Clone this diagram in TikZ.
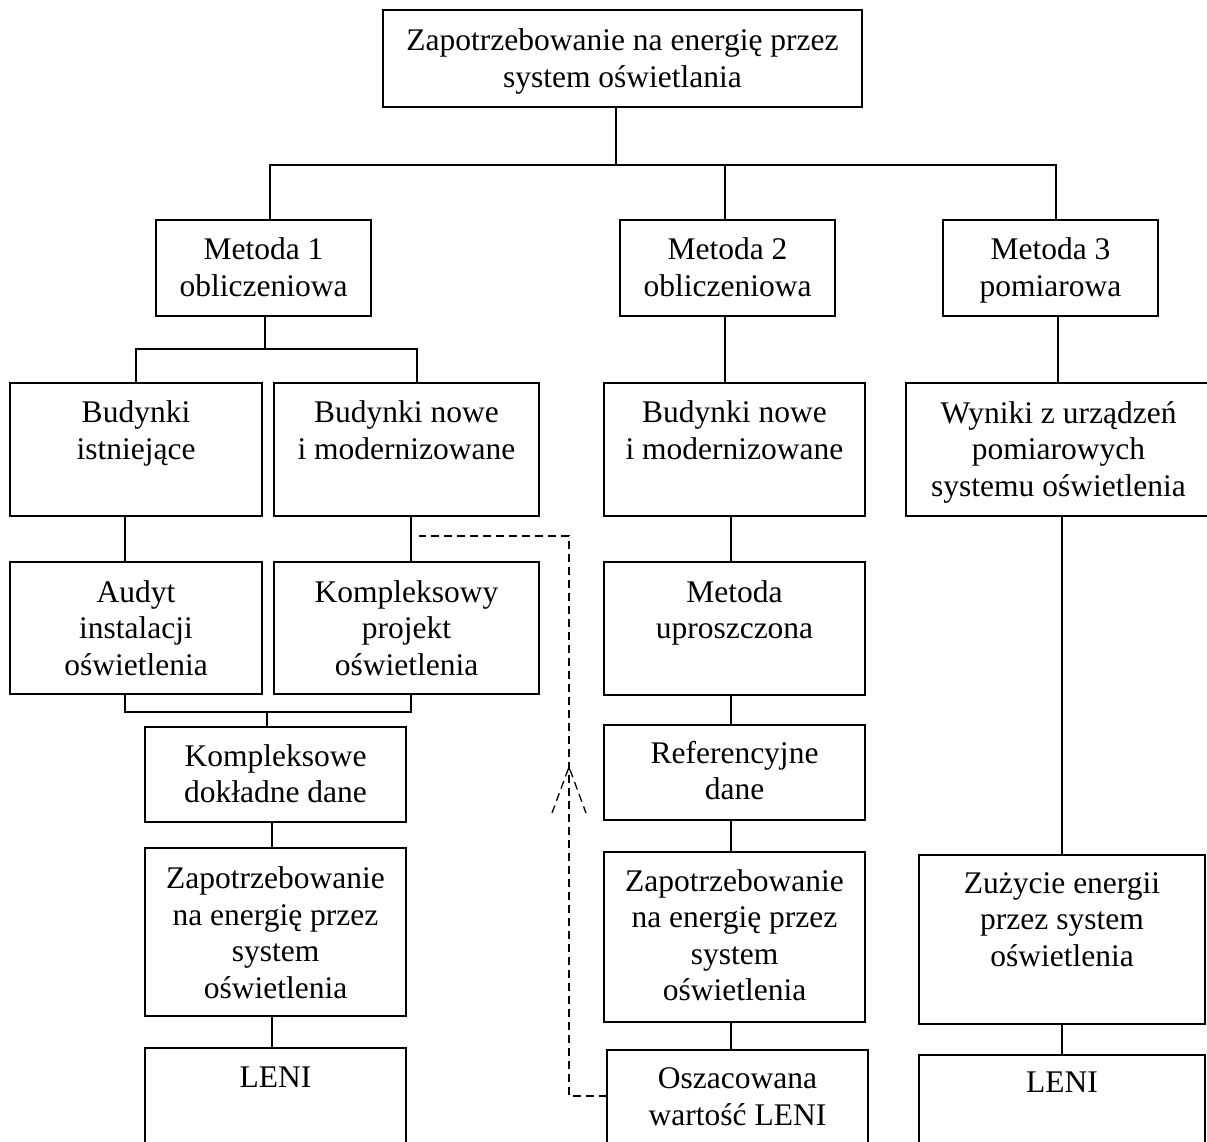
\documentclass[tikz,border=0pt]{standalone}
\usepackage{fontspec}
\setmainfont{Liberation Serif}
\begin{document}
\begin{tikzpicture}[x=1pt,y=-1pt,
  box/.style={draw=black, line width=1.7pt, inner sep=0pt, outer sep=0pt, anchor=north west},
  txt/.style={anchor=base, align=center, inner sep=0pt, text=black, font=\fontsize{31.5}{36.5}\selectfont},
  conn/.style={draw=black, line width=1.1pt},
  dconn/.style={draw=black, line width=1.3pt, dash pattern=on 8pt off 5pt}]
\useasboundingbox (0,0) rectangle (1207,1142);
\clip (0,0) rectangle (1207,1142);
% boxes
\node[box, minimum width=479pt, minimum height=97pt] (top) at (383,10) {};
\node[box, minimum width=215pt, minimum height=96pt] (m1) at (156,220) {};
\node[box, minimum width=215pt, minimum height=96pt] (m2) at (620,220) {};
\node[box, minimum width=215pt, minimum height=96pt] (m3) at (943,220) {};
\node[box, minimum width=252pt, minimum height=133pt] (bi) at (10,383) {};
\node[box, minimum width=265pt, minimum height=133pt] (bn1) at (274,383) {};
\node[box, minimum width=261pt, minimum height=133pt] (bn2) at (604,383) {};
\node[box, minimum width=305pt, minimum height=133pt] (wyn) at (906,383) {};
\node[box, minimum width=252pt, minimum height=132pt] (aud) at (10,562) {};
\node[box, minimum width=265pt, minimum height=132pt] (kp) at (274,562) {};
\node[box, minimum width=261pt, minimum height=133pt] (mu) at (604,562) {};
\node[box, minimum width=261pt, minimum height=95pt] (kd) at (145,727) {};
\node[box, minimum width=261pt, minimum height=95pt] (ref) at (604,725) {};
\node[box, minimum width=261pt, minimum height=168pt] (z1) at (145,848) {};
\node[box, minimum width=261pt, minimum height=170pt] (z2) at (604,852) {};
\node[box, minimum width=286pt, minimum height=169pt] (zu) at (919,855) {};
\node[box, minimum width=261pt, minimum height=120pt] (l1) at (145,1048) {};
\node[box, minimum width=261pt, minimum height=120pt] (osz) at (607,1050) {};
\node[box, minimum width=286pt, minimum height=120pt] (l3) at (919,1055) {};
% texts (anchor = baseline of the last line)
\node[txt] (ttop) at ([yshift=-77.5pt]top.north) {Zapotrzebowanie na energię przez\\system oświetlania};
\node[txt] (tm1) at ([yshift=-76pt]m1.north) {Metoda 1\\obliczeniowa};
\node[txt] (tm2) at ([yshift=-76pt]m2.north) {Metoda 2\\obliczeniowa};
\node[txt] (tm3) at ([yshift=-76pt]m3.north) {Metoda 3\\pomiarowa};
\node[txt] (tbi) at ([yshift=-76pt]bi.north) {Budynki\\istniejące};
\node[txt] (tbn1) at ([yshift=-76pt]bn1.north) {Budynki nowe\\i modernizowane};
\node[txt] (tbn2) at ([yshift=-76pt]bn2.north) {Budynki nowe\\i modernizowane};
\node[txt] (twyn) at ([yshift=-113pt]wyn.north) {Wyniki z urządzeń\\pomiarowych\\systemu oświetlenia};
\node[txt] (taud) at ([yshift=-113pt]aud.north) {Audyt\\instalacji\\oświetlenia};
\node[txt] (tkp) at ([yshift=-113pt]kp.north) {Kompleksowy\\projekt\\oświetlenia};
\node[txt] (tmu) at ([yshift=-76.5pt]mu.north) {Metoda\\uproszczona};
\node[txt] (tkd) at ([yshift=-75.5pt]kd.north) {Kompleksowe\\dokładne dane};
\node[txt] (tref) at ([yshift=-74.5pt]ref.north) {Referencyjne\\dane};
\node[txt] (tz1) at ([yshift=-150pt]z1.north) {Zapotrzebowanie\\na energię przez\\system\\oświetlenia};
\node[txt] (tz2) at ([yshift=-148.5pt]z2.north) {Zapotrzebowanie\\na energię przez\\system\\oświetlenia};
\node[txt] (tzu) at ([yshift=-111pt]zu.north) {Zużycie energii\\przez system\\oświetlenia};
\node[txt] (tl1) at ([yshift=-39pt]l1.north) {LENI};
\node[txt] (tosz) at ([yshift=-75pt]osz.north) {Oszacowana\\wartość LENI};
\node[txt] (tl3) at ([yshift=-37pt]l3.north) {LENI};
% junctions
\coordinate (j0) at (616,165);
\coordinate (jm1) at (270,165);
\coordinate (jm2) at (725,165);
\coordinate (jm3) at (1056,165);
\coordinate (j1) at (265,349);
\coordinate (jb1) at (136,349);
\coordinate (jb2) at (417,349);
\coordinate (xa) at (125,600);
\coordinate (xk) at (411,600);
\coordinate (jk) at (267,712);
\coordinate (xl) at (272,900);
\coordinate (xm) at (731,600);
\coordinate (xw) at (1062,600);
\coordinate (x3) at (1058,600);
% connectors
\draw[conn] (top.south -| j0) -- (j0);
\draw[conn] (jm1 |- m1.north) -- (jm1) -- (jm3) -- (jm3 |- m3.north);
\draw[conn] (jm2) -- (jm2 |- m2.north);
\draw[conn] (m1.south -| j1) -- (j1);
\draw[conn] (jb1 |- bi.north) -- (jb1) -- (jb2) -- (jb2 |- bn1.north);
\draw[conn] (m2.south -| jm2) -- (jm2 |- bn2.north);
\draw[conn] (x3 |- m3.south) -- (x3 |- wyn.north);
\draw[conn] (xa |- bi.south) -- (xa |- aud.north);
\draw[conn] (xk |- bn1.south) -- (xk |- kp.north);
\draw[conn] (xa |- aud.south) |- (jk);
\draw[conn] (xk |- kp.south) |- (jk);
\draw[conn] (jk) -- (jk |- kd.north);
\draw[conn] (xl |- kd.south) -- (xl |- z1.north);
\draw[conn] (xl |- z1.south) -- (xl |- l1.north);
\draw[conn] (xm |- bn2.south) -- (xm |- mu.north);
\draw[conn] (xm |- mu.south) -- (xm |- ref.north);
\draw[conn] (xm |- ref.south) -- (xm |- z2.north);
\draw[conn] (xm |- z2.south) -- (xm |- osz.north);
\draw[conn] (xw |- wyn.south) -- (xw |- zu.north);
\draw[conn] (xw |- zu.south) -- (xw |- l3.north);
% dashed feedback
\coordinate (d1) at (419,536);
\coordinate (d2) at (569,536);
\coordinate (d3) at (569,1096);
\coordinate (tip) at (569,767);
\draw[dconn] (d3 -| osz.west) -- (d3) -- (d2) -- (d1);
\draw[dconn] ([shift={(-17,46)}]tip) -- (tip) -- ([shift={(17,46)}]tip);
\end{tikzpicture}
\end{document}
